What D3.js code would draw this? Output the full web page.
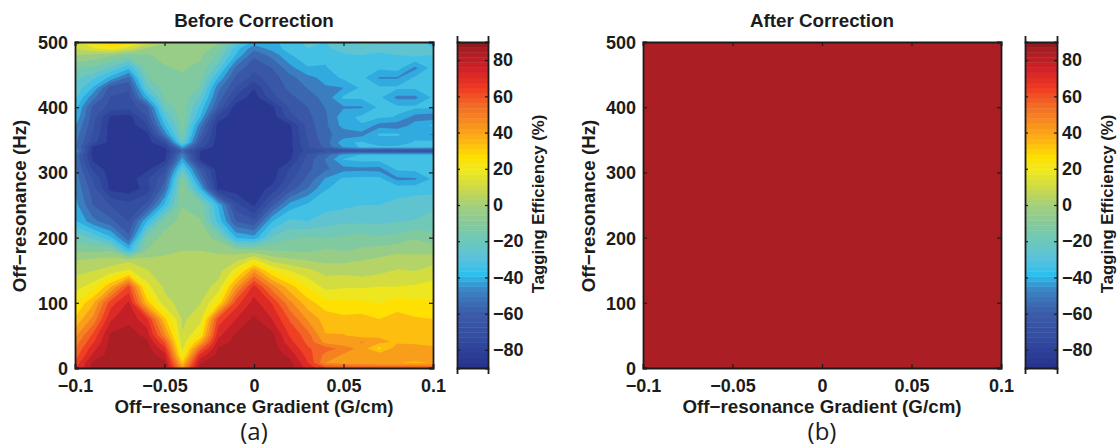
<!DOCTYPE html>
<html><head><meta charset="utf-8">
<script src="https://cdn.jsdelivr.net/npm/d3@7"></script>
<style>
html,body{margin:0;padding:0;background:#fff}
svg{display:block}
text{font-family:"Liberation Sans",Arial,sans-serif;font-weight:bold;fill:#1c1c1c}
</style></head><body>
<svg id="c" width="1119" height="446"></svg>
<script>
const gradients=[-0.1,-0.09,-0.08,-0.07,-0.06,-0.05,-0.04,-0.03,-0.02,-0.01,0,0.01,0.02,0.03,0.04,0.05,0.06,0.07,0.08,0.09,0.1];
const frequencies=[0,8,20,30,40,50,75,100,125,150,165,180,200,225,250,275,290,305,320,327,333,339,346,358,372,385,400,415,430,445,460,480,490,500];
const beforeValues=[
[66,85,88,89,88,85,45,85,88,89,89,89,86,72,62,60,60,60,60,60,60],
[62,84,87,89,88,84,32,82,87,89,89,89,85,68,45,42,40,38,38,36,38],
[56,76,86,89,87,78,18,70,85,87,89,88,80,64,50,44,42,42,44,44,44],
[52,72,86,89,86,70,13,56,83,86,89,87,75,61,56,50,42,28,42,44,42],
[48,66,85,88,84,60,10,38,78,85,88,86,70,58,42,38,46,40,36,34,30],
[43,62,84,87,80,48,8,24,73,84,88,85,67,56,38,38,34,36,34,36,32],
[31,47,74,80,70,32,6,12,63,75,84,75,59,44,34,32,33,30,33,31,30],
[22,36,64,76,34,10,5,7,24,64,78,67,47,33,26,24,24,22,26,24,24],
[12,18,36,62,18,6,2,4,10,42,70,48,33,22,12,14,14,15,15,16,18],
[5,7,10,16,8,4,1,1,4,18,42,22,14,9,5,5,3,5,8,7,10],
[0,2,4,6,3,1,1,1,2,6,18,5,2,0,-2,-2,0,2,4,6,5],
[-8,-9,-8,-35,-7,-1,0,0,-1,-4,-5,-7,-8,-9,-6,-8,-6,-4,-2,-4,-3],
[-18,-24,-36,-58,-14,-4,-3,-4,-10,-38,-42,-22,-16,-14,-15,-14,-12,-14,-12,-8,-12],
[-36,-50,-58,-68,-38,-12,-5,-7,-33,-60,-66,-38,-28,-30,-26,-24,-24,-24,-23,-22,-20],
[-42,-60,-68,-72,-66,-36,-8,-10,-38,-72,-84,-62,-42,-36,-33,-32,-30,-30,-28,-26,-24],
[-46,-64,-85,-87,-80,-55,-6,-38,-84,-87,-87,-80,-64,-52,-38,-35,-34,-34,-33,-33,-33],
[-48,-68,-86,-87,-76,-62,-10,-52,-86,-87,-87,-86,-70,-58,-44,-36,-35,-35,-47,-46,-36],
[-50,-76,-87,-87,-85,-70,-25,-62,-87,-87,-87,-87,-74,-62,-54,-48,-47,-48,-36,-35,-35],
[-52,-84,-87,-87,-87,-85,-42,-84,-87,-87,-87,-87,-84,-64,-52,-37,-35,-35,-35,-35,-35],
[-52,-86,-87,-87,-87,-86,-48,-84,-87,-87,-87,-87,-85,-66,-56,-42,-37,-37,-37,-37,-37],
[-42,-85,-87,-87,-87,-86,-58,-83,-87,-87,-87,-87,-85,-72,-68,-68,-68,-69,-69,-69,-70],
[-50,-83,-87,-87,-87,-82,-42,-72,-87,-87,-87,-87,-85,-68,-58,-44,-36,-36,-36,-36,-36],
[-50,-72,-86,-87,-87,-72,-22,-66,-87,-87,-87,-87,-85,-68,-56,-40,-36,-44,-44,-36,-35],
[-48,-68,-86,-87,-85,-50,-14,-58,-86,-87,-87,-87,-85,-66,-54,-50,-48,-36,-36,-42,-46],
[-44,-66,-86,-87,-76,-38,-12,-50,-86,-87,-87,-87,-84,-64,-54,-42,-38,-48,-50,-42,-36],
[-38,-64,-84,-86,-68,-30,-10,-38,-78,-87,-87,-87,-70,-62,-54,-40,-36,-36,-38,-48,-50],
[-34,-62,-70,-72,-62,-20,-10,-32,-62,-87,-87,-85,-66,-60,-52,-46,-46,-36,-36,-36,-36],
[-28,-50,-68,-70,-40,-14,-9,-24,-55,-76,-87,-70,-62,-56,-50,-36,-36,-36,-47,-47,-36],
[-24,-38,-64,-66,-25,-11,-8,-16,-50,-68,-82,-66,-58,-52,-46,-45,-36,-36,-36,-36,-36],
[-20,-28,-40,-55,-16,-10,-8,-12,-38,-62,-70,-64,-55,-48,-42,-36,-35,-46,-46,-36,-35],
[-14,-16,-24,-36,-12,-8,-7,-9,-26,-55,-66,-60,-48,-38,-38,-34,-34,-36,-34,-47,-34],
[0,-2,-6,-10,-8,-6,-4,-6,-16,-38,-58,-50,-38,-34,-36,-31,-30,-33,-30,-28,-30],
[8,14,20,12,-1,-3,-3,-4,-10,-34,-50,-42,-34,-30,-32,-26,-24,-25,-24,-25,-30],
[12,24,34,26,12,1,-2,-3,-6,-22,-40,-40,-33,-28,-30,-23,-21,-22,-25,-28,-32]
];
const afterValues=[[90,90],[90,90]];
const afterGradients=[-0.1,0.1];
const afterFrequencies=[0,500];
const xTicks=[-0.1,-0.05,0,0.05,0.1];
const yTicks=[0,100,200,300,400,500];
const barTicks=[-80,-60,-40,-20,0,20,40,60,80];
const colorStops=[-90,-75,-60,-47,-38,-30,-20,-10,0,10,20,27,35,45,55,65,75,85,90];
const colorValues=["#27318d","#324a9f","#3b5ba8","#3b84c3","#2bc0ef","#57c2dc","#6cc8bc","#84c99a","#a4cf7c","#cfdb45","#f2e91a","#ffdf00","#fdb813","#f78f1e","#f26a25","#ee3a24","#d12027","#aa1e24","#8a191c"];
const panels=[
 {title:"Before Correction",tag:"(a)",left:75,right:433,barL:457,barR:488,ylabelX:25.5,barLabelX:544,cols:gradients,rows:frequencies,values:beforeValues},
 {title:"After Correction",tag:"(b)",left:643,right:1001,barL:1025,barR:1057,ylabelX:595,barLabelX:1113,cols:afterGradients,rows:afterFrequencies,values:afterValues}
];
const top_=42,bottom=368,ink="#1c1c1c";
const svg=d3.select("#c");
const color=d3.scaleLinear().domain(colorStops).range(colorValues).interpolate(d3.interpolateRgb);
const nBar=64, barStep=180/nBar;
const nLev=24, levStep=180/nLev;
const fmtMinus=s=>String(s).replace("-","\u2212");
panels.forEach(p=>{
  const x=d3.scaleLinear().domain([-0.1,0.1]).range([p.left,p.right]);
  const y=d3.scaleLinear().domain([0,500]).range([bottom,top_]);
  const colIdx=d3.scaleLinear().domain(d3.range(p.cols.length)).range(p.cols).clamp(true);
  const rowIdx=d3.scaleLinear().domain(d3.range(p.rows.length)).range(p.rows).clamp(true);
  const path=d3.geoPath(d3.geoTransform({point(a,b){this.stream.point(x(colIdx(a-0.5)),y(rowIdx(b-0.5)));}}));
  const flat=p.values.flat();
  const thresholds=d3.range(nLev).map(i=>-90+i*levStep);
  const contours=d3.contours().size([p.cols.length,p.rows.length]).thresholds(thresholds).smooth(true)(flat);
  const g=svg.append("g");
  g.append("rect").attr("x",p.left).attr("y",top_).attr("width",p.right-p.left).attr("height",bottom-top_).attr("fill",color(-90+levStep/2));
  g.selectAll("path").data(contours).join("path").attr("d",path)
   .attr("fill",d=>color(Math.min(d.value+levStep/2,85))).attr("stroke","none");
  const ax=(gen,t)=>{const s=svg.append("g").attr("transform",t).call(gen);s.select(".domain").attr("stroke",ink).attr("stroke-width",1.8);s.selectAll("line").attr("stroke",ink).attr("stroke-width",1.2);return s;};
  const lab=s=>s.selectAll("text").style("font-size","18px").attr("fill",ink);
  const b=ax(d3.axisBottom(x).tickValues(xTicks).tickSize(-4).tickPadding(11).tickFormat(d=>fmtMinus(d)),`translate(0,${bottom})`);lab(b);
  const l=ax(d3.axisLeft(y).tickValues(yTicks).tickSize(-4).tickPadding(7).tickFormat(d=>d),`translate(${p.left},0)`);lab(l);
  l.selectAll("text").attr("dy","0.36em");
  ax(d3.axisTop(x).tickValues(xTicks).tickSize(-4).tickFormat(""),`translate(0,${top_})`);
  ax(d3.axisRight(y).tickValues(yTicks).tickSize(-4).tickFormat(""),`translate(${p.right},0)`);
  const cx=(p.left+p.right)/2;
  svg.append("text").attr("x",cx).attr("y",27).attr("text-anchor","middle").style("font-size","18.8px").text(p.title);
  svg.append("text").attr("x",cx).attr("y",412.5).attr("text-anchor","middle").style("font-size","18.8px").text("Off\u2212resonance Gradient (G/cm)");
  svg.append("text").attr("transform",`translate(${p.ylabelX},${(top_+bottom)/2+1}) rotate(-90)`).attr("text-anchor","middle").style("font-size","18.8px").text("Off\u2212resonance (Hz)");
  svg.append("text").attr("x",cx).attr("y",440).attr("text-anchor","middle").style("font-size","24px").style("font-weight","normal").style("font-family","'Open Sans',sans-serif").text(p.tag);
  const cb=d3.scaleLinear().domain([-90,90]).range([bottom,top_]);
  svg.append("g").selectAll("rect").data(d3.range(nBar)).join("rect")
   .attr("x",p.barL).attr("width",p.barR-p.barL)
   .attr("y",i=>cb(-90+(i+1)*barStep)).attr("height",cb(0)-cb(barStep)+0.4)
   .attr("fill",i=>color(-90+(i+0.5)*barStep));
  const cr=ax(d3.axisRight(cb).tickValues(barTicks).tickSize(-3).tickPadding(5).tickFormat(d=>fmtMinus(d)),`translate(${p.barR},0)`);lab(cr);
  ax(d3.axisLeft(cb).tickValues(barTicks).tickSize(-3).tickFormat(""),`translate(${p.barL},0)`);
  ax(d3.axisTop(d3.scaleLinear().domain([0,1]).range([p.barL,p.barR])).tickValues([]),`translate(0,${top_})`);
  ax(d3.axisBottom(d3.scaleLinear().domain([0,1]).range([p.barL,p.barR])).tickValues([]),`translate(0,${bottom})`);
  svg.append("text").attr("transform",`translate(${p.barLabelX},204) rotate(-90)`).attr("text-anchor","middle").style("font-size","16.8px").text("Tagging Efficiency (%)");
});
</script></body></html>
